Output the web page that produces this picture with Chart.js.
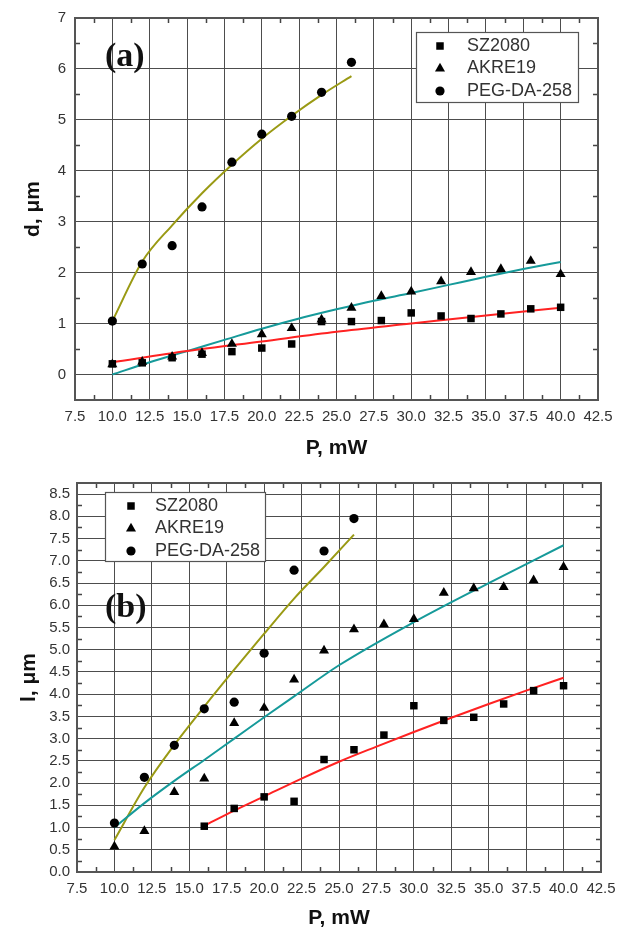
<!DOCTYPE html>
<html>
<head>
<meta charset="utf-8">
<script src="https://cdn.jsdelivr.net/npm/chart.js@4.4.1/dist/chart.umd.min.js"></script>
<style>
  body { margin: 0; background: #fff; }
  canvas { display: block; }
</style>
</head>
<body>
<canvas id="chartA" width="628" height="466"></canvas>
<canvas id="chartB" width="628" height="466"></canvas>
<script>
// tick labels
const xTicks = [7.5, 10, 12.5, 15, 17.5, 20, 22.5, 25, 27.5, 30, 32.5, 35, 37.5, 40, 42.5];
const yTicksA = [0, 1, 2, 3, 4, 5, 6, 7];
const yTicksB = [0, 0.5, 1, 1.5, 2, 2.5, 3, 3.5, 4, 4.5, 5, 5.5, 6, 6.5, 7, 7.5, 8, 8.5];

const names = ['SZ2080', 'AKRE19', 'PEG-DA-258'];

// (a) d, um
const pA = [10, 12, 14, 16, 18, 20, 22, 24, 26, 28, 30, 32, 34, 36, 38, 40];
const szA = [0.21, 0.23, 0.33, 0.40, 0.45, 0.52, 0.60, 1.04, 1.04, 1.06, 1.21, 1.15, 1.10, 1.19, 1.29, 1.32];
const akA = [0.20, 0.25, 0.35, 0.42, 0.60, 0.79, 0.91, 1.08, 1.31, 1.54, 1.63, 1.83, 2.01, 2.07, 2.23, 1.97];
const pPegA = [10, 12, 14, 16, 18, 20, 22, 24, 26];
const pegA = [1.05, 2.17, 2.53, 3.29, 4.17, 4.72, 5.07, 5.54, 6.13];

const fitSzA_p = [10, 15, 20, 25, 30, 35, 40];
const fitSzA = [0.24, 0.46, 0.65, 0.84, 1.0, 1.16, 1.31];
const fitAkA_p = [10, 12.5, 15, 17.5, 20, 22.5, 25, 27.5, 30, 32.5, 35, 37.5, 40];
const fitAkA = [0.0, 0.24, 0.46, 0.68, 0.90, 1.10, 1.28, 1.45, 1.60, 1.76, 1.92, 2.07, 2.21];
const fitPegA_p = [10, 12, 14, 16, 18, 20, 22, 24, 26];
const fitPegA = [1.05, 2.22, 2.93, 3.56, 4.12, 4.63, 5.08, 5.49, 5.86];

// (b) l, um
const pB = [10, 12, 14, 16, 18, 20, 22, 24, 26, 28, 30, 32, 34, 36, 38, 40];
const pSzB = [16, 18, 20, 22, 24, 26, 28, 30, 32, 34, 36, 38, 40];
const szB = [1.03, 1.43, 1.69, 1.59, 2.53, 2.75, 3.08, 3.74, 3.41, 3.48, 3.78, 4.08, 4.19];
const akB = [0.57, 0.92, 1.80, 2.10, 3.35, 3.69, 4.33, 4.98, 5.46, 5.57, 5.69, 6.28, 6.38, 6.41, 6.56, 6.86];
const pPegB = [10, 12, 14, 16, 18, 20, 22, 24, 26];
const pegB = [1.10, 2.13, 2.85, 3.67, 3.82, 4.92, 6.79, 7.22, 7.95];

const fitSzB_p = [16, 18, 20, 22.5, 25, 27.5, 30, 32.5, 35, 37.5, 40];
const fitSzB = [1.04, 1.38, 1.70, 2.10, 2.48, 2.82, 3.15, 3.47, 3.78, 4.08, 4.37];
const fitAkB_p = [10, 12, 14, 16, 18, 20, 22, 25, 30, 35, 40];
const fitAkB = [1.0, 1.55, 2.05, 2.52, 3.0, 3.48, 3.95, 4.65, 5.62, 6.50, 7.35];
const fitPegB_p = [10, 12, 14, 16, 18, 20, 22, 24, 26];
const fitPegB = [0.72, 1.90, 2.86, 3.72, 4.55, 5.36, 6.15, 6.86, 7.59];

const RED = '#ff2222', TEAL = '#169a9a', OLIVE = '#9a9a14';
const FONT = 'Arial, "Liberation Sans", sans-serif';
const GRID = '#4d4d4d';

const pts = (xs, ys) => xs.map((x, i) => ({ x: x, y: ys[i] }));

const marks = (label, xs, ys, style, r) => ({
  label: label,
  data: pts(xs, ys),
  showLine: false,
  pointStyle: style,
  pointRadius: r,
  pointBackgroundColor: '#000',
  pointBorderColor: '#000',
  pointBorderWidth: 0
});

const fit = (xs, ys, color) => ({
  label: '',
  data: pts(xs, ys),
  showLine: true,
  borderColor: color,
  borderWidth: 2,
  pointRadius: 0,
  tension: 0.4,
  cubicInterpolationMode: 'monotone'
});

// frame, inward minor ticks, legend box and panel letter
const decor = {
  id: 'decor',
  afterDraw(chart, args, o) {
    const { ctx, chartArea: a, scales: { x, y } } = chart;
    const mids = t => t.slice(1).map((v, i) => (v + t[i]) / 2);
    ctx.save();
    ctx.strokeStyle = '#444';
    ctx.lineWidth = 1.5;
    ctx.beginPath();
    mids(x.ticks.map(t => t.value)).forEach(v => {
      const px = Math.round(x.getPixelForValue(v)) + 0.5;
      ctx.moveTo(px, a.bottom); ctx.lineTo(px, a.bottom - 5);
      ctx.moveTo(px, a.top); ctx.lineTo(px, a.top + 5);
    });
    mids(y.ticks.map(t => t.value)).forEach(v => {
      const py = Math.round(y.getPixelForValue(v)) + 0.5;
      ctx.moveTo(a.left, py); ctx.lineTo(a.left + 5, py);
      ctx.moveTo(a.right, py); ctx.lineTo(a.right - 5, py);
    });
    ctx.stroke();
    ctx.strokeStyle = '#555';
    ctx.lineWidth = 2;
    ctx.strokeRect(a.left, a.top, a.right - a.left, a.bottom - a.top);

    // legend
    const L = o.legend;
    ctx.fillStyle = '#fff';
    ctx.fillRect(L.left, L.top, L.width, L.height);
    ctx.strokeStyle = '#555';
    ctx.lineWidth = 1.2;
    ctx.strokeRect(L.left + 0.5, L.top + 0.5, L.width, L.height);
    ctx.font = '18px ' + FONT;
    ctx.textBaseline = 'middle';
    ctx.textAlign = 'left';
    chart.data.datasets.filter(d => d.showLine === false).forEach((d, i) => {
      const cy = L.top + L.first + i * L.gap;
      ctx.fillStyle = '#000';
      ctx.strokeStyle = '#000';
      Chart.helpers.drawPoint(ctx, { pointStyle: d.pointStyle, radius: d.pointRadius, borderWidth: 0 }, L.left + L.mark, cy);
      ctx.fillStyle = '#333';
      ctx.fillText(d.label, L.left + L.text, cy);
    });

    // panel letter
    ctx.fillStyle = '#111';
    ctx.font = 'bold 34px "Liberation Serif", "Times New Roman", serif';
    ctx.fillText(o.letter.text, o.letter.x, o.letter.y);
    ctx.restore();
  }
};

function makeChart(id, cfg) {
  return new Chart(document.getElementById(id), {
    type: 'scatter',
    data: { datasets: cfg.datasets },
    plugins: [decor],
    options: {
      responsive: false,
      animation: false,
      devicePixelRatio: 1,
      layout: { padding: cfg.padding },
      plugins: {
        legend: { display: false },
        tooltip: { enabled: false },
        decor: { legend: cfg.legend, letter: cfg.letter }
      },
      scales: {
        x: {
          type: 'linear',
          min: 7.5,
          max: 42.5,
          afterBuildTicks: s => { s.ticks = xTicks.map(v => ({ value: v })); },
          afterFit: s => { s.height = cfg.xHeight; },
          grid: { color: GRID, lineWidth: 1, drawTicks: false },
          border: { display: false },
          ticks: {
            padding: 8,
            color: '#333',
            font: { family: FONT, size: 15 },
            maxRotation: 0,
            autoSkip: false,
            callback: v => v.toFixed(1)
          },
          title: {
            display: true,
            text: 'P, mW',
            color: '#111',
            font: { family: FONT, size: 21, weight: 'bold' },
            padding: { top: 0, bottom: cfg.xTitlePad }
          }
        },
        y: {
          type: 'linear',
          min: cfg.yMin,
          max: cfg.yMax,
          afterBuildTicks: s => { s.ticks = cfg.yTicks.map(v => ({ value: v })); },
          afterFit: s => { s.width = cfg.yWidth; },
          grid: { color: GRID, lineWidth: 1, drawTicks: false },
          border: { display: false },
          ticks: {
            padding: cfg.yTickPad,
            color: '#333',
            font: { family: FONT, size: 15 },
            autoSkip: false,
            callback: cfg.yFmt
          },
          title: {
            display: true,
            text: cfg.yTitle,
            color: '#111',
            font: { family: FONT, size: 21, weight: 'bold' },
            padding: { top: cfg.yTitlePad, bottom: 0 }
          }
        }
      }
    }
  });
}

makeChart('chartA', {
  datasets: [
    marks(names[0], pA, szA, 'rect', 5.3),
    marks(names[1], pA, akA, 'triangle', 5.8),
    marks(names[2], pPegA, pegA, 'circle', 4.6),
    fit(fitSzA_p, fitSzA, RED),
    fit(fitAkA_p, fitAkA, TEAL),
    fit(fitPegA_p, fitPegA, OLIVE)
  ],
  padding: { top: 10, right: 30, left: 0, bottom: 0 },
  xHeight: 66,
  yWidth: 75,
  yMin: -0.5,
  yMax: 7,
  yTicks: yTicksA,
  yFmt: v => String(v),
  yTickPad: 9,
  yTitle: 'd, \u03bcm',
  yTitlePad: 21,
  xTitlePad: 5,
  legend: { left: 416, top: 32, width: 162, height: 70, first: 14, gap: 22.5, mark: 24, text: 51 },
  letter: { text: '(a)', x: 105, y: 57 }
});

makeChart('chartB', {
  datasets: [
    marks(names[0], pSzB, szB, 'rect', 5.3),
    marks(names[1], pB, akB, 'triangle', 5.8),
    marks(names[2], pPegB, pegB, 'circle', 4.6),
    fit(fitSzB_p, fitSzB, RED),
    fit(fitAkB_p, fitAkB, TEAL),
    fit(fitPegB_p, fitPegB, OLIVE)
  ],
  padding: { top: 17, right: 27, left: 0, bottom: 0 },
  xHeight: 60,
  yWidth: 77,
  yMin: 0,
  yMax: 8.75,
  yTicks: yTicksB,
  yFmt: v => v.toFixed(1),
  yTickPad: 7,
  yTitle: 'l, \u03bcm',
  yTitlePad: 17,
  xTitlePad: 1,
  legend: { left: 105, top: 26, width: 160, height: 69, first: 14, gap: 22.5, mark: 26, text: 50 },
  letter: { text: '(b)', x: 105, y: 142 }
});
</script>
</body>
</html>
